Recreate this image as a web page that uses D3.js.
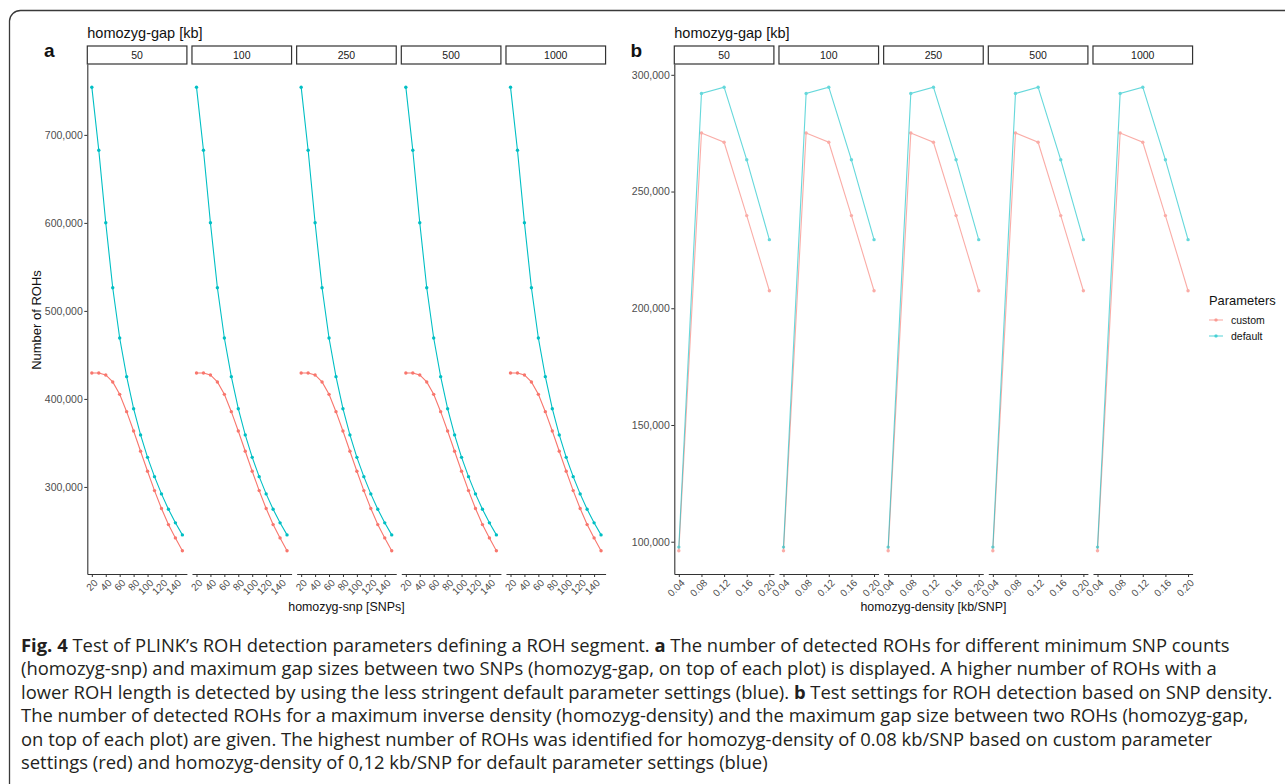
<!DOCTYPE html>
<html>
<head>
<meta charset="utf-8">
<script src="https://cdn.jsdelivr.net/npm/d3@7"></script>
<style>
  body { margin: 0; background: #fff; }
  svg { display: block; font-family: "Liberation Sans", Arial, sans-serif; }
</style>
</head>
<body>
<div id="chart"></div>
<script>
// facets: homozyg-gap [kb]
const gapSizes = [50, 100, 250, 500, 1000];

// panel a: homozyg-snp [SNPs]
const snpCounts = [20, 30, 40, 50, 60, 70, 80, 90, 100, 110, 120, 130, 140, 150];
const snpDefault = [754200, 682600, 600100, 526300, 469200, 425300, 388900, 359100, 333600, 311700, 292100, 274600, 259200, 245500];
const snpCustom = [429400, 429400, 427200, 419300, 405200, 385500, 363600, 340500, 317800, 295800, 275400, 257200, 242100, 227400];
const snpXTicks = [20, 40, 60, 80, 100, 120, 140];
const snpYTicks = [300000, 400000, 500000, 600000, 700000];

// panel b: homozyg-density [kb/SNP]
const densities = [0.04, 0.08, 0.12, 0.16, 0.20];
const densityDefault = [97700, 292000, 294700, 263600, 229400];
const densityCustom = [96100, 275100, 271100, 239700, 207500];
const densityXTicks = [0.04, 0.08, 0.12, 0.16, 0.20];
const densityYTicks = [100000, 150000, 200000, 250000, 300000];

const seriesNames = ['custom', 'default'];

const captionLines = [
  [['Fig. 4', true], ['  Test of PLINK’s ROH detection parameters defining a ROH segment. ', false], ['a', true], [' The number of detected ROHs for different minimum SNP counts', false]],
  [['(homozyg-snp) and maximum gap sizes between two SNPs (homozyg-gap, on top of each plot) is displayed. A higher number of ROHs with a', false]],
  [['lower ROH length is detected by using the less stringent default parameter settings (blue). ', false], ['b', true], [' Test settings for ROH detection based on SNP density.', false]],
  [['The number of detected ROHs for a maximum inverse density (homozyg-density) and the maximum gap size between two ROHs (homozyg-gap,', false]],
  [['on top of each plot) are given. The highest number of ROHs was identified for homozyg-density of 0.08 kb/SNP based on custom parameter', false]],
  [['settings (red) and homozyg-density of 0,12 kb/SNP for default parameter settings (blue)', false]]
];

const width = 1285, height = 784;
const panelTop = 64, panelBottom = 574;
const stripTop = 46, stripH = 18;
const facetW = 99.6, facetGap = 5.07;
const colors = d3.scaleOrdinal().domain(seriesNames).range(['#F8766D', '#00BFC4']);
const axisColor = '#333333', tickColor = '#4d4d4d';

const svg = d3.select('#chart').append('svg')
  .attr('width', width)
  .attr('height', height);

// figure frame (rounded top-left, runs off right and bottom)
svg.append('path')
  .attr('d', 'M9.5,' + height + ' V21 A11,11 0 0 1 20.5,10.5 H' + width)
  .attr('fill', 'none')
  .attr('stroke', '#3a3a3a')
  .attr('stroke-width', 1.3);

// ggplot style padding of 5%
function expand(ext) {
  const pad = (ext[1] - ext[0]) * 0.05;
  return [ext[0] - pad, ext[1] + pad];
}

function drawPanel(opts) {
  const g = svg.append('g');
  const allY = opts.custom.concat(opts.def);
  const y = d3.scaleLinear()
    .domain(expand(d3.extent(allY)))
    .range([panelBottom, panelTop]);

  // facet title
  g.append('text')
    .attr('x', opts.left)
    .attr('y', 33)
    .attr('dy', '0.35em')
    .attr('font-size', 14.5)
    .attr('fill', '#111')
    .text('homozyg-gap [kb]');

  // panel letter
  g.append('text')
    .attr('x', opts.left - 38)
    .attr('y', 50)
    .attr('dy', '0.35em')
    .attr('text-anchor', 'middle')
    .attr('font-size', 19)
    .attr('font-weight', 'bold')
    .attr('fill', '#111')
    .text(opts.letter);

  gapSizes.forEach(function(gap, i) {
    const fx = opts.left + i * (facetW + facetGap);
    const x = d3.scaleLinear()
      .domain(expand(d3.extent(opts.xValues)))
      .range([fx, fx + facetW]);

    // strip
    g.append('rect')
      .attr('x', fx)
      .attr('y', stripTop)
      .attr('width', facetW)
      .attr('height', stripH)
      .attr('fill', '#fff')
      .attr('stroke', axisColor)
      .attr('stroke-width', 1.2);
    g.append('text')
      .attr('x', fx + facetW / 2)
      .attr('y', stripTop + stripH / 2)
      .attr('dy', '0.35em')
      .attr('text-anchor', 'middle')
      .attr('font-size', 10.5)
      .attr('fill', '#1a1a1a')
      .text(gap);

    // x axis
    const xAxis = g.append('g')
      .attr('transform', 'translate(0,' + panelBottom + ')')
      .call(d3.axisBottom(x).tickValues(opts.xTicks).tickFormat(opts.xFormat).tickSize(3).tickSizeOuter(0));
    xAxis.select('.domain').attr('stroke', axisColor).attr('stroke-width', 1.1);
    xAxis.selectAll('.tick line').attr('stroke', axisColor);
    xAxis.selectAll('.tick text')
      .attr('x', 0)
      .attr('y', 0)
      .attr('dy', '0.72em')
      .attr('text-anchor', 'end')
      .attr('transform', 'translate(1,4.5) rotate(-45)')
      .attr('font-size', 10)
      .attr('font-family', '"Liberation Sans", Arial, sans-serif')
      .attr('fill', tickColor);

    // y axis only on the first facet
    if (i === 0) {
      const yAxis = g.append('g')
        .attr('transform', 'translate(' + fx + ',0)')
        .call(d3.axisLeft(y).tickValues(opts.yTicks).tickFormat(d3.format(',')).tickSize(3).tickSizeOuter(0));
      yAxis.select('.domain').attr('stroke', axisColor).attr('stroke-width', 1.1);
      yAxis.selectAll('.tick line').attr('stroke', axisColor);
      yAxis.selectAll('.tick text')
        .attr('x', -4.5)
        .attr('font-size', 10.5)
        .attr('font-family', '"Liberation Sans", Arial, sans-serif')
        .attr('fill', tickColor);
    }

    const line = d3.line()
      .x(function(d) { return x(d[0]); })
      .y(function(d) { return y(d[1]); });

    [['custom', opts.custom], ['default', opts.def]].forEach(function(s) {
      const pts = opts.xValues.map(function(v, k) { return [v, s[1][k]]; });
      const sg = g.append('g').attr('opacity', opts.opacity);
      sg.append('path')
        .datum(pts)
        .attr('d', line)
        .attr('fill', 'none')
        .attr('stroke', colors(s[0]))
        .attr('stroke-width', 1.1);
      sg.selectAll('circle')
        .data(pts)
        .enter().append('circle')
          .attr('cx', function(d) { return x(d[0]); })
          .attr('cy', function(d) { return y(d[1]); })
          .attr('r', 1.7)
          .attr('fill', colors(s[0]));
    });
  });

  // x axis title
  const totalW = 5 * facetW + 4 * facetGap;
  g.append('text')
    .attr('x', opts.left + totalW / 2)
    .attr('y', 607)
    .attr('dy', '0.35em')
    .attr('text-anchor', 'middle')
    .attr('font-size', 12.4)
    .attr('fill', '#111')
    .text(opts.xTitle);
}

drawPanel({
  left: 87.3, letter: 'a',
  xValues: snpCounts, custom: snpCustom, def: snpDefault,
  xTicks: snpXTicks, yTicks: snpYTicks, xFormat: d3.format('d'),
  xTitle: 'homozyg-snp [SNPs]', opacity: 1
});

drawPanel({
  left: 674.3, letter: 'b',
  xValues: densities, custom: densityCustom, def: densityDefault,
  xTicks: densityXTicks, yTicks: densityYTicks, xFormat: d3.format('.2f'),
  xTitle: 'homozyg-density [kb/SNP]', opacity: 0.6
});

// y axis title (panel a)
svg.append('text')
  .attr('transform', 'translate(36,320) rotate(-90)')
  .attr('dy', '0.35em')
  .attr('text-anchor', 'middle')
  .attr('font-size', 13)
  .attr('fill', '#111')
  .text('Number of ROHs');

// legend
const legend = svg.append('g').attr('transform', 'translate(1209,300)');
legend.append('text')
  .attr('dy', '0.35em')
  .attr('font-size', 12.9)
  .attr('fill', '#111')
  .text('Parameters');
const items = legend.selectAll('.item')
  .data(seriesNames)
  .enter().append('g')
    .attr('class', 'item')
    .attr('transform', function(d, i) { return 'translate(0,' + (20 + i * 16) + ')'; });
items.append('line')
  .attr('x1', 0).attr('x2', 14)
  .attr('stroke', function(d) { return colors(d); })
  .attr('stroke-width', 1.1)
  .attr('opacity', 0.6);
items.append('circle')
  .attr('cx', 7).attr('r', 1.7)
  .attr('fill', function(d) { return colors(d); })
  .attr('opacity', 0.6);
items.append('text')
  .attr('x', 22)
  .attr('dy', '0.35em')
  .attr('font-size', 10.5)
  .attr('fill', '#111')
  .text(function(d) { return d; });

// caption, font sized so the longest line fills the frame width
const caption = svg.append('g')
  .attr('font-family', '"Open Sans", "Noto Sans", sans-serif')
  .attr('fill', '#231f20');
let fontSize = 15;
const lineNodes = captionLines.map(function(parts, i) {
  const t = caption.append('text')
    .attr('x', 21)
    .attr('y', 652 + i * 23.4)
    .attr('font-size', fontSize);
  parts.forEach(function(p) {
    t.append('tspan')
      .attr('font-weight', p[1] ? 'bold' : null)
      .text(p[0]);
  });
  return t;
});
const longest = d3.max(lineNodes, function(t) { return t.node().getComputedTextLength(); });
fontSize = fontSize * 1253 / longest;
lineNodes.forEach(function(t) { t.attr('font-size', fontSize); });
</script>
</body>
</html>
